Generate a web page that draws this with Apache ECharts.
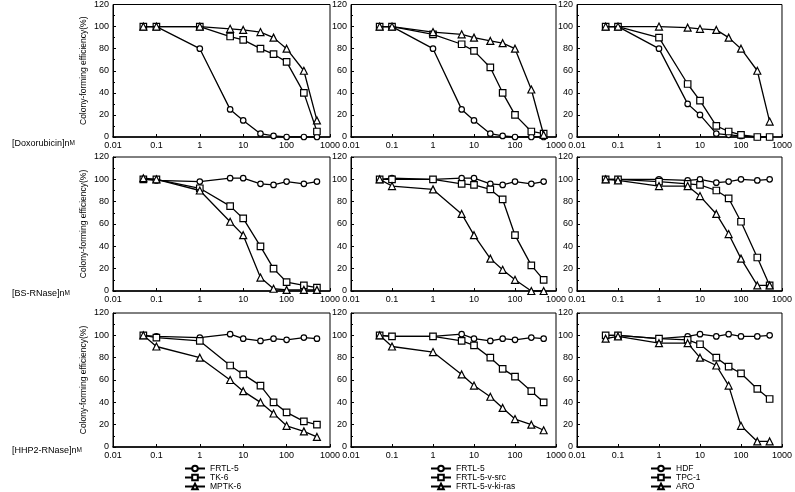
<!DOCTYPE html>
<html><head><meta charset="utf-8">
<script src="https://cdn.jsdelivr.net/npm/echarts@6/dist/echarts.min.js"></script>
<style>html,body{margin:0;padding:0;background:#fff}#c{width:795px;height:492px}</style>
</head><body><div id="c"></div>
<script>
// ---- data ----
const doses = [0.05, 0.1, 1, 5, 10, 25, 50, 100, 250, 500];
const xTickLabels = ['0.01', '0.1', '1', '10', '100', '1000'];
const rowLabels = ['[Doxorubicin]', '[BS-RNase]', '[HHP2-RNase]'];
const legendNames1 = ['FRTL-5', 'TK-6', 'MPTK-6'];
const legendNames2 = ['FRTL-5', 'FRTL-5-v-src', 'FRTL-5-v-ki-ras'];
const legendNames3 = ['HDF', 'TPC-1', 'ARO'];
const yAxisTitle = 'Colony-forming efficiency(%)';

// Doxorubicin
const doxFRTL5a = [100, 100, 80, 25, 15, 3, 1, 0, 0, 0];
const doxTK6 = [100, 100, 100, 91, 88, 80, 75, 68, 40, 5];
const doxMPTK6 = [100, 100, 100, 98, 97, 95, 90, 80, 60, 15];
const doxFRTL5b = [100, 100, 80, 25, 15, 3, 1, 0, 0, 0];
const doxVsrc = [100, 100, 93, 84, 78, 63, 40, 20, 5, 3];
const doxVkiras = [100, 100, 95, 93, 90, 87, 85, 80, 43, 2];
const doxHDF = [100, 100, 80, 30, 20, 3, 2, 1, 0, 0];
const doxTPC1 = [100, 100, 90, 48, 33, 10, 5, 2, 0, 0];
const doxARO = [100, 100, 100, 99, 98, 97, 90, 80, 60, 14];
// BS-RNase
const bsFRTL5a = [100, 99, 98, 101, 101, 96, 95, 98, 96, 98];
const bsTK6 = [100, 100, 92, 76, 65, 40, 20, 8, 5, 3];
const bsMPTK6 = [101, 100, 90, 62, 50, 12, 2, 1, 1, 1];
const bsFRTL5b = [100, 101, 100, 101, 101, 96, 95, 98, 96, 98];
const bsVsrc = [100, 100, 100, 96, 95, 91, 82, 50, 23, 10];
const bsVkiras = [100, 94, 91, 69, 50, 29, 19, 10, 0, 0];
const bsHDF = [100, 100, 100, 99, 100, 97, 98, 100, 99, 100];
const bsTPC1 = [100, 100, 98, 96, 95, 90, 83, 62, 30, 5];
const bsARO = [100, 99, 94, 94, 85, 69, 51, 29, 5, 5];
// HHP2-RNase
const hhFRTL5a = [100, 99, 98, 101, 97, 95, 97, 96, 98, 97];
const hhTK6 = [100, 98, 95, 73, 65, 55, 40, 31, 23, 20];
const hhMPTK6 = [100, 90, 80, 60, 50, 40, 30, 19, 14, 9];
const hhFRTL5b = [100, 99, 99, 101, 97, 95, 97, 96, 98, 97];
const hhVsrc = [100, 99, 99, 95, 91, 80, 70, 63, 50, 40];
const hhVkiras = [100, 90, 85, 65, 55, 45, 35, 25, 20, 15];
const hhHDF = [100, 100, 97, 99, 101, 99, 101, 99, 99, 100];
const hhTPC1 = [100, 100, 97, 96, 92, 80, 72, 66, 52, 43];
const hhARO = [97, 99, 93, 93, 80, 73, 55, 19, 5, 5];

// ---- layout / build ----
const panels = [
  [[doxFRTL5a, doxTK6, doxMPTK6], [doxFRTL5b, doxVsrc, doxVkiras], [doxHDF, doxTPC1, doxARO]],
  [[bsFRTL5a, bsTK6, bsMPTK6], [bsFRTL5b, bsVsrc, bsVkiras], [bsHDF, bsTPC1, bsARO]],
  [[hhFRTL5a, hhTK6, hhMPTK6], [hhFRTL5b, hhVsrc, hhVkiras], [hhHDF, hhTPC1, hhARO]]
];
const colNames = [legendNames1, legendNames2, legendNames3];
const colLeft = [113, 351, 577], colWidth = [217, 205, 206];
const rowTop = [3, 157, 313], rowHeight = 134;
const symbols = ['circle', 'rect', 'triangle'];
const symbolSizes = [5.5, 6.5, 7];
const FONT = 'Liberation Sans, Arial, sans-serif';

const grid = [], xAxis = [], yAxis = [], series = [];
for (let r = 0; r < 3; r++) {
  for (let c = 0; c < 3; c++) {
    const i = r * 3 + c;
    grid.push({left: colLeft[c], top: rowTop[r], width: colWidth[c], height: rowHeight,
      show: true, borderColor: '#000', borderWidth: 1, backgroundColor: 'transparent'});
    xAxis.push({type: 'log', logBase: 10, min: 0.01, max: 1000, gridIndex: i,
      axisLine: {show: true, onZero: false, lineStyle: {color: '#000', width: 1.6}},
      axisTick: {show: true, inside: true, length: 3, lineStyle: {color: '#000'}},
      axisLabel: {fontSize: 9, color: '#000', fontFamily: FONT, margin: 4,
        formatter: v => xTickLabels[Math.round(Math.log10(v)) + 2]},
      splitLine: {show: false}});
    const ya = {type: 'value', min: 0, max: 120, interval: 20, gridIndex: i,
      axisLine: {show: true, lineStyle: {color: '#000', width: 1}},
      axisTick: {show: true, inside: true, length: 3, lineStyle: {color: '#000'}},
      minorTick: {show: true, splitNumber: 2, length: 2, lineStyle: {color: '#000'}},
      axisLabel: {fontSize: 9, color: '#000', fontFamily: FONT, margin: 4},
      splitLine: {show: false}};
    if (c === 0) {
      ya.name = yAxisTitle; ya.nameLocation = 'middle'; ya.nameGap = 25;
      ya.nameTextStyle = {fontSize: 8.5, color: '#000', fontFamily: FONT};
    }
    yAxis.push(ya);
    for (let s = 0; s < 3; s++) {
      const vals = panels[r][c][s];
      series.push({type: 'line', name: colNames[c][s], xAxisIndex: i, yAxisIndex: i,
        data: doses.map((d, k) => [d, vals[k]]),
        symbol: symbols[s], symbolSize: symbolSizes[s], showAllSymbol: true,
        lineStyle: {color: '#000', width: 1.3},
        itemStyle: {color: '#fff', borderColor: '#000', borderWidth: 1.2},
        emphasis: {disabled: true}, z: 3 + s});
    }
  }
}

const legendLeft = [184, 430, 650];
const legend = colNames.map((names, c) => ({
  data: names.map(n => ({name: n})), orient: 'vertical', left: legendLeft[c], top: 464,
  itemWidth: 20, itemHeight: 7, itemGap: 0, padding: 0, selectedMode: false,
  textStyle: {fontSize: 8.5, color: '#000', fontFamily: FONT, lineHeight: 8}
}));

const rowLabelY = [145, 295, 452];
const graphic = rowLabels.map((t, r) => ({
  type: 'text', left: 12, top: rowLabelY[r] - 6,
  style: {text: t + '{n|n}{m|M}', fontSize: 9, fontFamily: FONT, fill: '#000',
    rich: {n: {fontSize: 9, fontFamily: FONT}, m: {fontSize: 6.5, fontFamily: FONT}}}
}));

const chart = echarts.init(document.getElementById('c'));
chart.setOption({animation: false, backgroundColor: '#fff', grid, xAxis, yAxis, series, legend, graphic});
</script></body></html>
